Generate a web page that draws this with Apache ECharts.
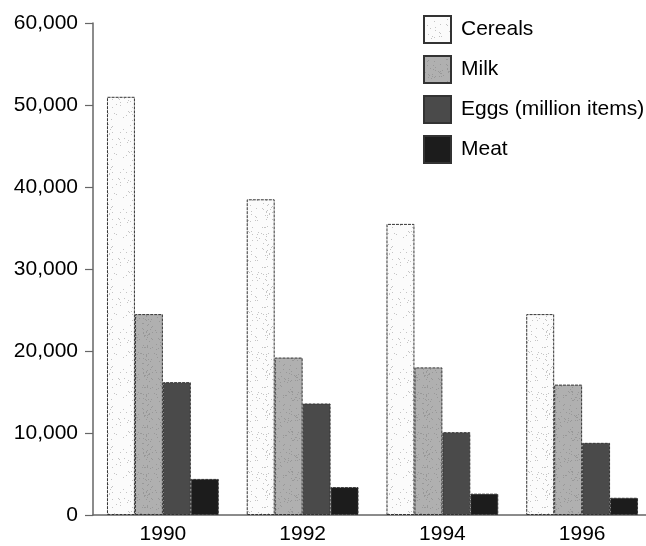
<!DOCTYPE html>
<html>
<head>
<meta charset="utf-8">
<script src="https://cdn.jsdelivr.net/npm/echarts@6/dist/echarts.min.js"></script>
<style>
html,body{margin:0;padding:0;background:#fff;}
#chart{width:646px;height:546px;}
</style>
</head>
<body>
<div id="chart"></div>
<script>
const years = ['1990', '1992', '1994', '1996'];
const cereals = [51000, 38500, 35500, 24500];
const milk = [24500, 19200, 18000, 15900];
const eggs = [16200, 13600, 10100, 8800];
const meat = [4400, 3400, 2600, 2100];
const yTicks = [0, 10000, 20000, 30000, 40000, 50000, 60000];

// stipple texture for the light bars (deterministic dot pattern)
function makeStipple(bg, dot, n) {
  const c = document.createElement('canvas');
  c.width = 40; c.height = 40;
  const g = c.getContext('2d');
  g.fillStyle = bg; g.fillRect(0, 0, 40, 40);
  let s = 12345;
  function r() { s = (s * 1103515245 + 12345) % 2147483648; return s / 2147483648; }
  g.fillStyle = dot;
  for (let i = 0; i < n; i++) {
    g.fillRect(Math.floor(r() * 40), Math.floor(r() * 40), 1, 1);
  }
  return c;
}
const cerealFill = { image: makeStipple('#fbfbfb', '#c4c4c4', 70), repeat: 'repeat' };
const milkFill = { image: makeStipple('#b0b0b0', '#989898', 120), repeat: 'repeat' };

const font = 'Liberation Sans, Arial, Helvetica, sans-serif';
const border = { borderColor: '#333', borderWidth: 1, borderType: [3, 1] };

const chart = echarts.init(document.getElementById('chart'), null, { renderer: 'canvas' });
chart.setOption({
  animation: false,
  backgroundColor: '#fff',
  grid: { left: 93, width: 559, top: 23, bottom: 31, containLabel: false, outerBoundsMode: 'none' },
  legend: {
    orient: 'vertical',
    left: 423,
    top: 15,
    padding: 0,
    itemWidth: 27,
    itemHeight: 27,
    itemGap: 11,
    icon: 'rect',
    textStyle: { fontFamily: font, fontSize: 21, color: '#000', lineHeight: 27, padding: [0, 0, 0, 5] },
    data: ['Cereals', 'Milk', 'Eggs (million items)', 'Meat']
  },
  xAxis: {
    type: 'category',
    data: years,
    axisTick: { show: false },
    axisLine: { lineStyle: { color: '#666', width: 1.5 } },
    axisLabel: { fontFamily: font, fontSize: 21, color: '#000', margin: 9 }
  },
  yAxis: {
    type: 'value',
    min: yTicks[0],
    max: yTicks[yTicks.length - 1],
    interval: yTicks[1] - yTicks[0],
    splitLine: { show: false },
    axisLine: { show: true, lineStyle: { color: '#666', width: 1.5 } },
    axisTick: { show: true, length: 8, lineStyle: { color: '#666', width: 1.2 } },
    axisLabel: {
      fontFamily: font, fontSize: 21, color: '#000', margin: 15,
      formatter: v => v.toLocaleString('en-US')
    }
  },
  series: [
    { name: 'Cereals', type: 'bar', data: cereals, barGap: '0%', barCategoryGap: '20%',
      itemStyle: Object.assign({ color: cerealFill }, border) },
    { name: 'Milk', type: 'bar', data: milk,
      itemStyle: Object.assign({ color: milkFill }, border) },
    { name: 'Eggs (million items)', type: 'bar', data: eggs,
      itemStyle: Object.assign({ color: '#4a4a4a' }, border) },
    { name: 'Meat', type: 'bar', data: meat,
      itemStyle: Object.assign({ color: '#1c1c1c' }, border) }
  ]
});
</script>
</body>
</html>
